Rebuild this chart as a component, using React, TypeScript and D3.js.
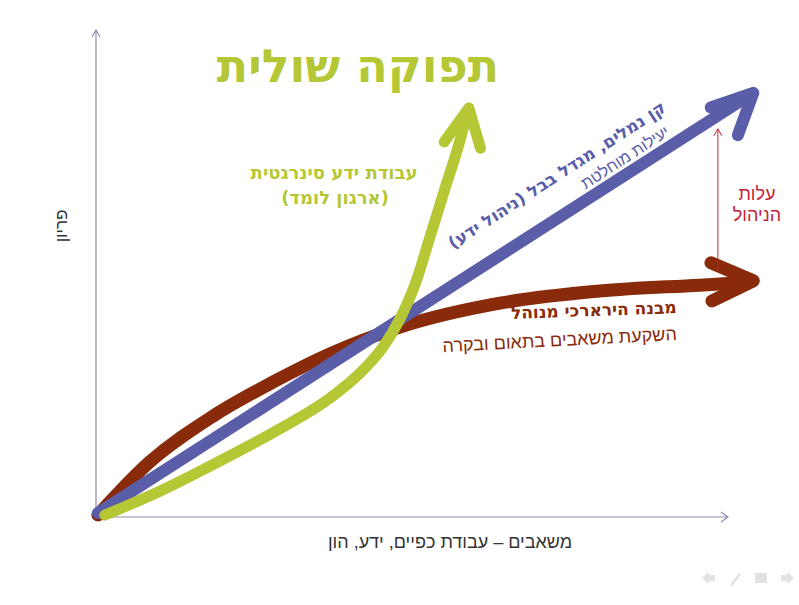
import React, { useEffect, useRef } from "react";
import * as d3 from "d3";

// curve points in axis units (0..100 along each axis)
const blueLine: [number, number][] = [
  [0.3, 0.8],
  [103.4, 86.6]
];
const brownCurve: [number, number][] = [
  [0.3, 0.4],
  [8.5, 11.3],
  [18.5, 20.7],
  [28.0, 27.7],
  [37.0, 33.5],
  [48.1, 39.0],
  [63.9, 43.9],
  [79.7, 46.4],
  [95.5, 47.6],
  [102.2, 48.1]
];
const greenCurve: [number, number][] = [
  [1.4, 0.4],
  [10.1, 5.3],
  [19.6, 11.5],
  [29.1, 18.1],
  [37.0, 24.4],
  [41.8, 29.6],
  [45.4, 34.9],
  [48.1, 40.7],
  [50.5, 47.8],
  [52.8, 57.3],
  [55.2, 67.4],
  [57.3, 76.0],
  [58.8, 83.2]
];
// arrow tips
const blueTip: [number, number] = [104.0, 87.1];
const brownTip: [number, number] = [104.0, 48.5];
const greenTip: [number, number] = [59.0, 84.0];
const costGap: [number, number][] = [
  [98.4, 50.5],
  [98.4, 79.7]
];

const title = "תפוקה שולית";
const xLabel = "משאבים – עבודת כפיים, ידע, הון";
const yLabel = "פריון";
const greenLabel = ["עבודת ידע סינרגטית", "(ארגון לומד)"];
const blueLabel = ["קן נמלים, מגדל בבל (ניהול ידע)", "יעילות מוחלטת"];
const brownLabel = ["מבנה הירארכי מנוהל", "השקעת משאבים בתאום ובקרה"];
const costLabel = ["עלות", "הניהול"];

const W = 799;
const H = 605;
const BLUE = "#5a5da8";
const BROWN = "#892a0a";
const GREEN = "#b5c734";
const RED = "#c3233a";
const AXIS = "#8e8eae";
const FONT = "'Liberation Sans', 'DejaVu Sans', sans-serif";
const BOLD = "'DejaVu Sans', 'Liberation Sans', sans-serif";

export default function App() {
  const ref = useRef<SVGSVGElement>(null);

  useEffect(() => {
    const svg = d3.select(ref.current);
    svg.selectAll("*").remove();

    const x = d3.scaleLinear().domain([0, 100]).range([96, 728]);
    const y = d3.scaleLinear().domain([0, 100]).range([517, 30]);

    svg.append("rect").attr("width", W).attr("height", H).attr("fill", "#fff");

    // axes
    const ax = svg.append("g").attr("stroke", AXIS).attr("fill", "none").attr("stroke-width", 1.2);
    ax.append("line").attr("x1", x(0)).attr("y1", y(0)).attr("x2", x(0)).attr("y2", y(100));
    ax.append("line").attr("x1", x(0)).attr("y1", y(0)).attr("x2", x(100)).attr("y2", y(0));
    ax.append("path").attr("d", `M${x(0) - 4},${y(100) + 7}L${x(0)},${y(100)}L${x(0) + 4},${y(100) + 7}`);
    ax.append("path").attr("d", `M${x(100) - 7},${y(0) - 5}L${x(100)},${y(0)}L${x(100) - 7},${y(0) + 5}`);

    const line = d3
      .line<[number, number]>()
      .x(d => x(d[0]))
      .y(d => y(d[1]))
      .curve(d3.curveMonotoneX);

    const head = (tip: [number, number], a1: number, a2: number, len: number) => {
      const tx = x(tip[0]);
      const ty = y(tip[1]);
      const r1 = (a1 * Math.PI) / 180;
      const r2 = (a2 * Math.PI) / 180;
      return `M${tx + len * Math.cos(r1)},${ty + len * Math.sin(r1)}L${tx},${ty}L${tx + len * Math.cos(r2)},${ty + len * Math.sin(r2)}`;
    };

    const draw = (pts: [number, number][], tip: [number, number], a1: number, a2: number, len: number, color: string, w: number) => {
      const g = svg
        .append("g")
        .attr("fill", "none")
        .attr("stroke", color)
        .attr("stroke-width", w)
        .attr("stroke-linecap", "round")
        .attr("stroke-linejoin", "round");
      g.append("path").attr("d", line(pts));
      g.append("path").attr("d", head(tip, a1, a2, len));
    };

    draw(brownCurve, brownTip, 203, 154, 46, BROWN, 13);
    draw(blueLine, blueTip, 161, 110, 45, BLUE, 12);
    draw(greenCurve, greenTip, 126, 74, 42, GREEN, 11);

    // management cost arrow
    const c = svg.append("g").attr("stroke", RED).attr("fill", "none").attr("stroke-width", 1);
    c.append("line")
      .attr("x1", x(costGap[0][0]))
      .attr("y1", y(costGap[0][1]))
      .attr("x2", x(costGap[1][0]))
      .attr("y2", y(costGap[1][1]));
    const cx = x(costGap[1][0]);
    const cy = y(costGap[1][1]);
    c.append("path").attr("d", `M${cx - 4},${cy + 7}L${cx},${cy}L${cx + 4},${cy + 7}`);

    const text = (
      tx: number,
      ty: number,
      s: string,
      size: number,
      color: string,
      bold: boolean,
      rot = 0
    ) =>
      svg
        .append("text")
        .attr("transform", `translate(${tx},${ty}) rotate(${rot})`)
        .attr("text-anchor", "middle")
        .attr("direction", "rtl")
        .attr("font-family", bold ? BOLD : FONT)
        .attr("font-weight", bold ? "bold" : "normal")
        .attr("font-size", size)
        .attr("fill", color)
        .text(s);

    text(358, 82, title, 46, GREEN, true);
    text(334, 179, greenLabel[0], 18, GREEN, true);
    text(335, 204, greenLabel[1], 18, GREEN, true);
    text(560, 180, blueLabel[0], 17, BLUE, true, -33);
    text(628, 162, blueLabel[1], 16, BLUE, false, -33);
    text(594, 316, brownLabel[0], 17, BROWN, true, -2);
    text(560, 346, brownLabel[1], 18, BROWN, false, -3);
    text(757, 200, costLabel[0], 18, RED, false);
    text(757, 221, costLabel[1], 18, RED, false);
    text(450, 548, xLabel, 18, "#333", false);
    text(67, 226, yLabel, 17, "#333", false, -90);

    // slide navigation icons
    const nav = svg.append("g").attr("fill", "#e2e2e2").attr("stroke", "none");
    nav.append("path").attr("d", "M702,578l7,-6v3h6v6h-6v3z");
    nav.append("path").attr("d", "M730,585l9,-12l2,1.5l-9,12z");
    nav.append("rect").attr("x", 755).attr("y", 573).attr("width", 12).attr("height", 10);
    nav.append("path").attr("d", "M794,578l-7,-6v3h-6v6h6v3z");
  }, []);

  return (
    <svg
      ref={ref}
      width={W}
      height={H}
      style={{ position: "absolute", left: 0, top: 0, display: "block" }}
    />
  );
}
